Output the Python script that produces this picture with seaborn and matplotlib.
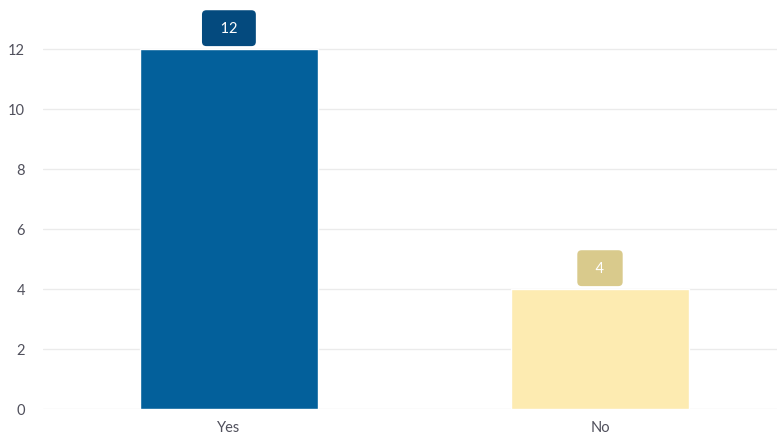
import matplotlib
matplotlib.use("Agg")
import matplotlib.pyplot as plt
import seaborn as sns
import pandas as pd

categories = ["Yes", "No"]
counts = [12, 4]
bar_colors = ["#03609b", "#fdebb1"]
badge_colors = ["#044a7e", "#d9ca8c"]
y_ticks = [0, 2, 4, 6, 8, 10, 12]

sns.set_theme(style="white")
plt.rcParams["font.family"] = ["Lato", "DejaVu Sans"]

df = pd.DataFrame({"answer": categories, "count": counts})

fig = plt.figure(figsize=(7.77, 4.35), dpi=100)
ax = fig.add_axes([43 / 777, 25 / 435, (777 - 43) / 777, 410 / 435])

sns.barplot(data=df, x="answer", y="count", hue="answer", palette=bar_colors,
            width=0.48, legend=False, ax=ax, saturation=1)

ax.set_ylim(0, 410 / 30)
ax.set_xlim(-0.501, 1.477)
ax.set_yticks(y_ticks)
ax.yaxis.grid(True, color="#ebebeb", linewidth=1)
ax.set_axisbelow(True)
for s in ax.spines.values():
    s.set_visible(False)
ax.set_xlabel("")
ax.set_ylabel("")
ax.tick_params(axis="y", length=0, pad=13, labelsize=10.5, labelcolor="#50505c")
ax.tick_params(axis="x", length=0, pad=8, labelsize=10.5, labelcolor="#50505c")

# value badges above each bar
for i, (v, c) in enumerate(zip(counts, badge_colors)):
    ax.annotate(f"  {v}  ", xy=(i, v), xytext=(0, 15), textcoords="offset points",
                ha="center", va="center", fontsize=10.5, color="white",
                bbox=dict(boxstyle="round,pad=0.75,rounding_size=0.3",
                          fc=c, ec="none"))

fig.savefig("out.png", dpi=100)
